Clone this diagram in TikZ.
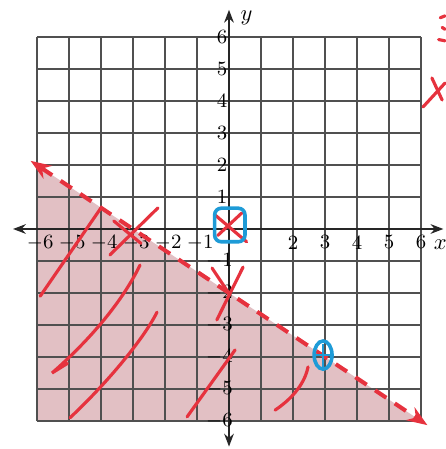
\documentclass[tikz,border=0pt]{standalone}
\usepackage{tikz}
\usetikzlibrary{arrows.meta,calc}
\definecolor{gridgray}{HTML}{505050}
\definecolor{halfplane}{HTML}{E2C0C4}
\definecolor{penred}{HTML}{E6323E}
\definecolor{penblue}{HTML}{1E9BD7}

\begin{document}
\begin{tikzpicture}[
  x=0.5cm, y=0.5cm,
  font=\small,
  gridline/.style={draw=gridgray, line width=0.7pt},
  axis/.style={{Stealth[length=2mm]}-{Stealth[length=2mm]}, line width=1.1pt, color=black!85},
  bound/.style={draw=penred, line width=1.8pt, dash pattern=on 6pt off 4.5pt, {Stealth[length=3.2mm]}-{Stealth[length=3.2mm]}},
  pen/.style={draw=penred, line width=1.4pt, line cap=round},
  ring/.style={draw=penblue, line width=1.6pt},
  lab/.style={inner sep=0pt, font=\small},
]
  \useasboundingbox (-7.156,-6.875) rectangle (6.75,7.156);
  % shaded half-plane and grid
  \fill[halfplane] (-6,2) -- (6,-6) -- (-6,-6) -- cycle;
  \draw[gridline, step=1] (-6,-6) grid (6,6);
  \coordinate (xl) at (-6.75,0); \coordinate (xr) at (6.7,0);
  \coordinate (yb) at (0,-6.8);  \coordinate (yt) at (0,6.85);
  \draw[axis] (xl) -- (xr);
  \draw[axis] (yb) -- (yt);
  \node[font=\normalsize] (ylab) at (0.55,6.6) {$y$};
  \node[font=\normalsize] (xlab) at (6.6,-0.5) {$x$};
  % tick labels
  \foreach \k in {1,...,6} {
    \node[lab] (yp\k) at (-0.22,\k) {\k};
    \node[lab] (yn\k) at (-0.3,-\k) {$-$\k};
    \node[lab] (xn\k) at (-\k+0.1,-0.42) {$-$\k};
  }
  \foreach \k in {2,...,6} \node[lab] (xp\k) at (\k,-0.42) {\k};
  % boundary line y = -2/3 x - 2
  \coordinate (bl) at (-6.2,2.13); \coordinate (br) at (6.2,-6.13);
  \draw[bound] (bl) -- (br);
  % hatching strokes
  \draw[pen] (-5.9,-2.1) -- (-4.0,0.66);
  \draw[pen] (-2.78,-1.13) .. controls (-3.4,-2.4) and (-4.5,-3.6) .. (-5.53,-4.5) -- (-5.05,-4.2);
  \draw[pen] (-2.25,-2.6) .. controls (-2.7,-3.5) and (-3.9,-4.9) .. (-4.97,-5.9);
  \draw[pen] (0.19,-3.78) -- (-1.31,-5.87);
  \draw[pen] (2.47,-4.31) .. controls (2.35,-4.9) and (1.9,-5.35) .. (1.44,-5.66);
  % test points
  \draw[pen] (-3.72,-0.81) -- (-2.22,0.66);
  \draw[pen] (-3.6,0.25) -- (-2.75,-0.45);
  \draw[pen] (-0.45,0.45) -- (0.55,-0.4);
  \draw[pen] (0.4,0.5) -- (-0.35,-0.2);
  \draw[ring, rounded corners=3pt] (-0.45,-0.4) rectangle (0.5,0.65);
  \draw[pen] (-0.53,-1.22) -- (0.03,-2.06);
  \draw[pen] (0.44,-1.19) -- (-0.38,-2.84);
  \draw[ring] (2.94,-3.94) ellipse [x radius=0.28, y radius=0.44];
  \draw[ring, line width=1.1pt] (2.72,-3.94) -- (3.16,-3.94) (2.94,-4.3) -- (2.94,-3.58);
  % marks at the right edge
  \draw[pen] (6.06,3.81) -- (6.75,4.56);
  \draw[pen] (6.34,4.72) -- (6.66,4.03);
  \draw[pen] (6.6,6.6) -- (6.75,6.66);
  \draw[pen] (6.66,6.3) -- (6.75,6.24);
  \draw[pen] (6.55,5.92) -- (6.75,5.88);
\end{tikzpicture}
\end{document}
